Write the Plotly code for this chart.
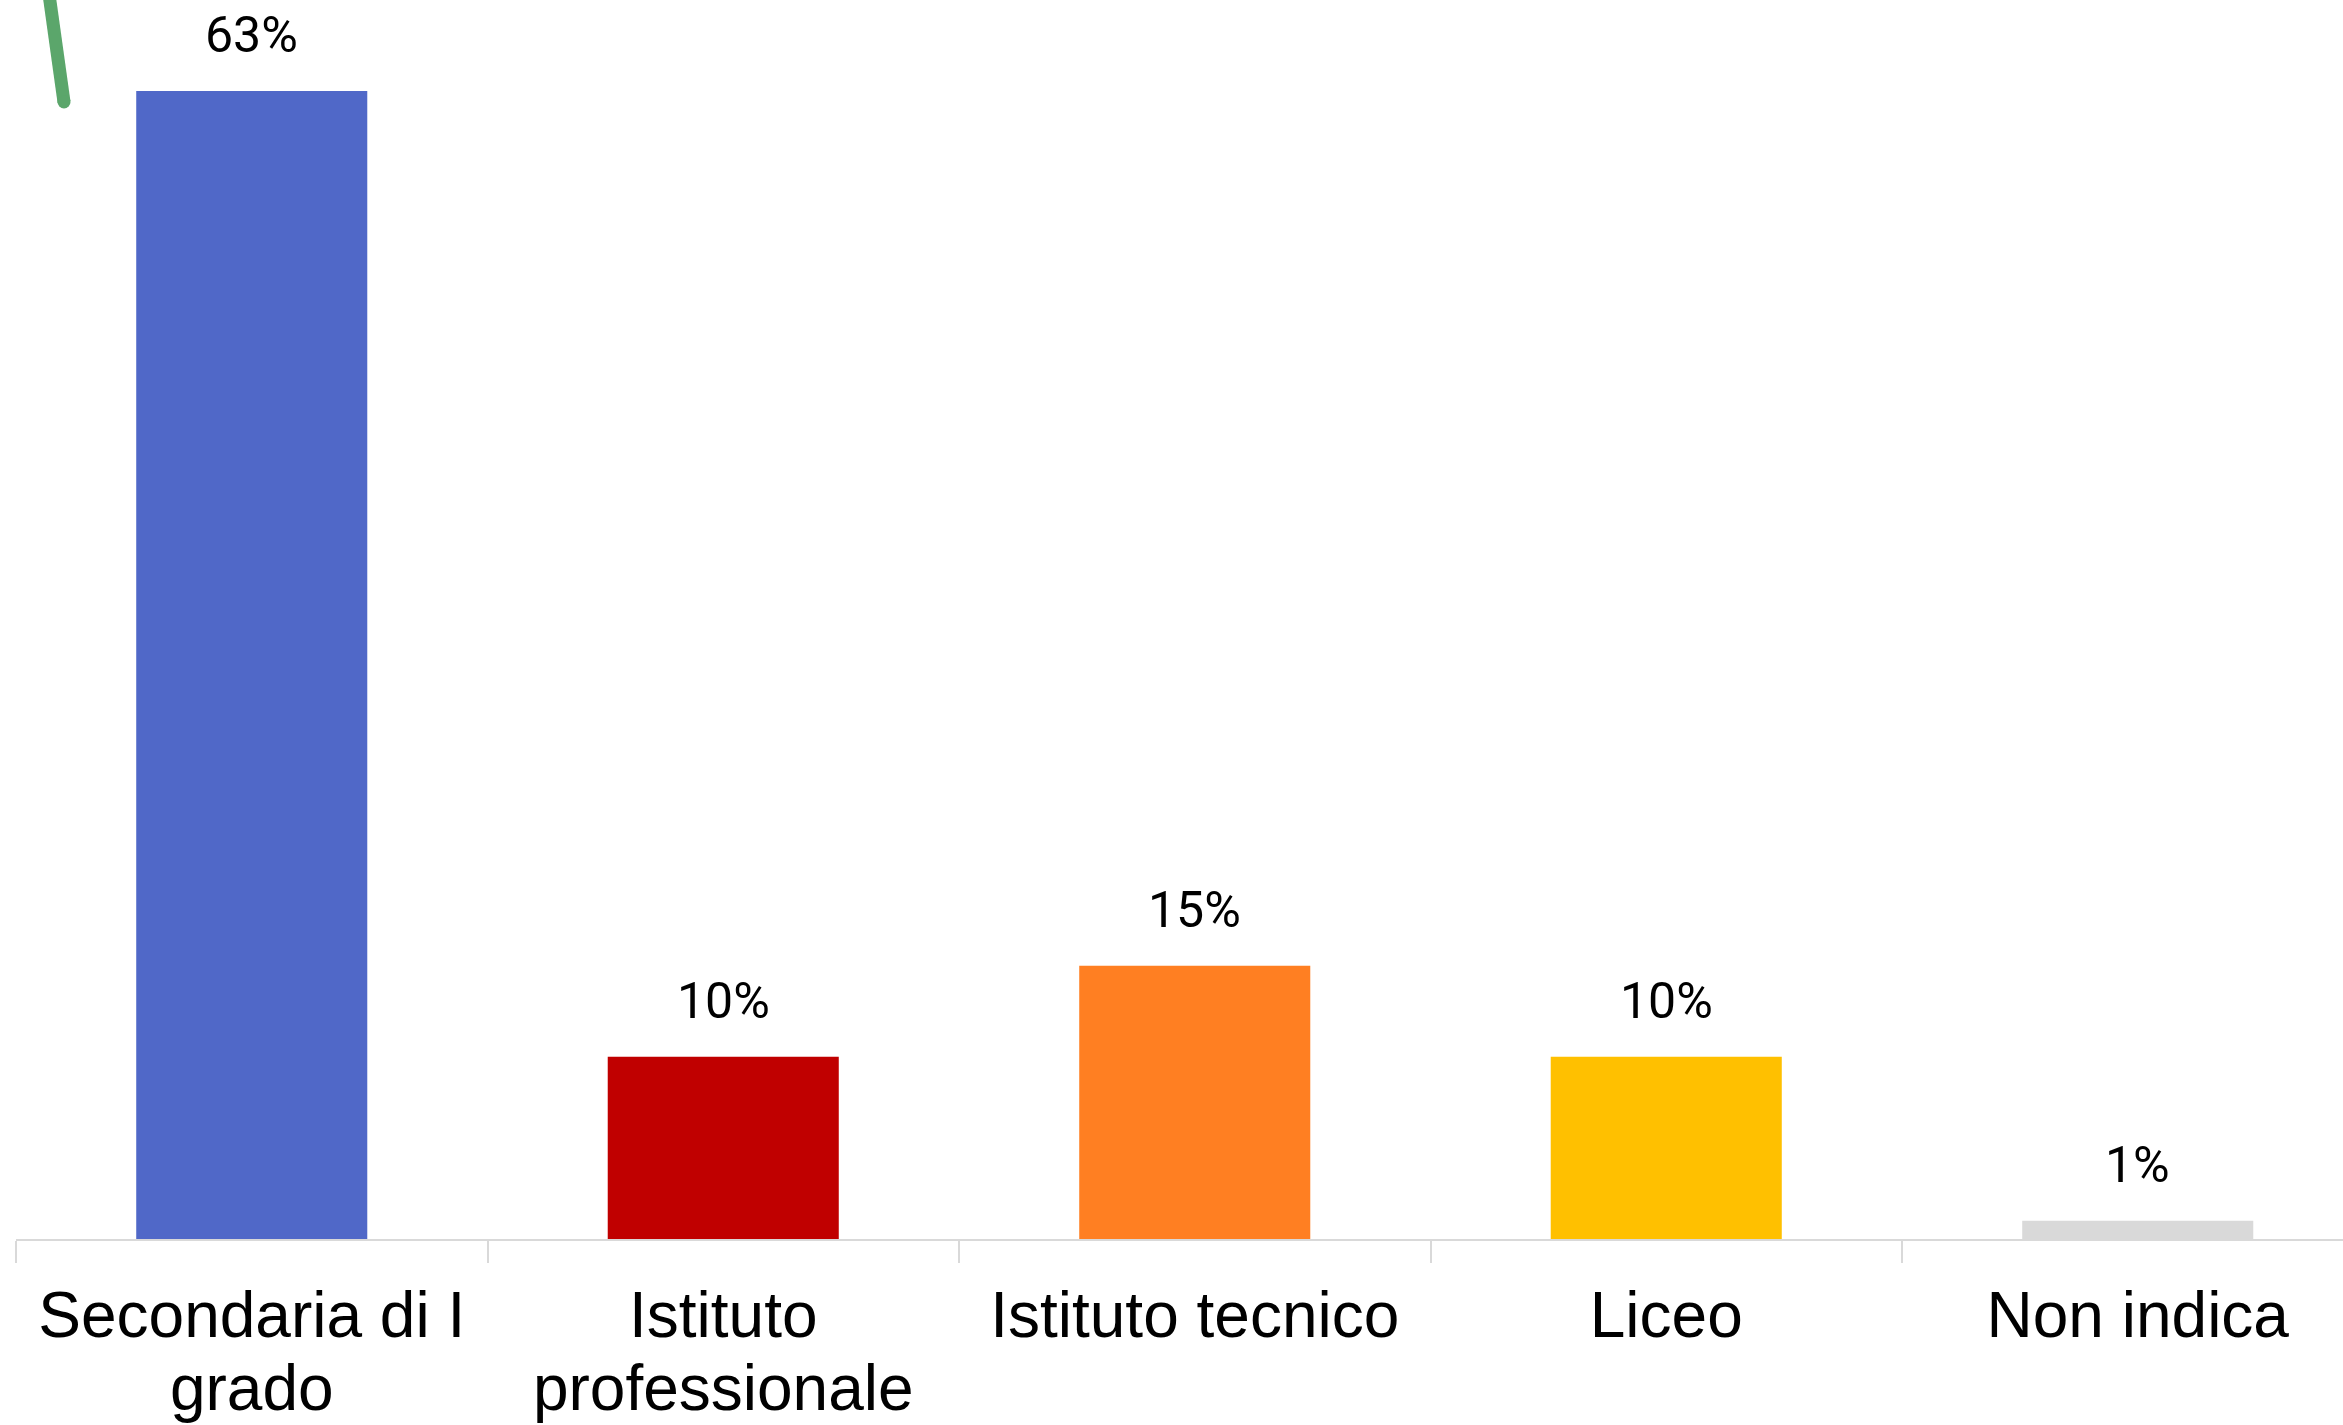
import plotly.graph_objects as go

# Tipologia di scuola e quota percentuale
righe_categorie = [
    ["Secondaria di I", "grado"],
    ["Istituto", "professionale"],
    ["Istituto tecnico"],
    ["Liceo"],
    ["Non indica"],
]
percentuali = [63, 10, 15, 10, 1]
etichette = ["63%", "10%", "15%", "10%", "1%"]
colori = ["#5068C8", "#C00000", "#FF7F22", "#FFC000", "#D9D9D9"]

W, H = 2343, 1425
left, bottom = 16, 186
plot_h = H - bottom

categorie = [" ".join(r) for r in righe_categorie]
# righe a interlinea stretta: font base piccolo, glifi ingranditi con span
testo_tick = [
    "<br>".join(f"<span style='font-size:64px'>{r}</span>" for r in righe)
    for righe in righe_categorie
]

fig = go.Figure(
    go.Bar(
        x=categorie,
        y=percentuali,
        marker=dict(color=colori, line=dict(width=0)),
        hoverinfo="skip",
    )
)

# etichette percentuali sopra le barre
for cat, val, lab in zip(categorie, percentuali, etichette):
    fig.add_annotation(
        x=cat, y=val, text=lab, showarrow=False,
        xanchor="center", yanchor="bottom", yshift=25,
        font=dict(family="Roboto", size=50, color="#000000"),
    )

# tratto decorativo verde in alto a sinistra
end_x = (64 - left) / (W - left)
end_y = (plot_h - 102) / plot_h
fig.add_shape(
    type="line", xref="paper", yref="paper",
    xsizemode="pixel", ysizemode="pixel",
    xanchor=end_x, yanchor=end_y,
    x0=0, y0=0, x1=-16, y1=115,
    line=dict(color="#5BA66B", width=13),
)
fig.add_shape(
    type="circle", xref="paper", yref="paper",
    xsizemode="pixel", ysizemode="pixel",
    xanchor=end_x, yanchor=end_y,
    x0=-6.5, x1=6.5, y0=-6.5, y1=6.5,
    fillcolor="#5BA66B", line=dict(width=0),
)

fig.update_layout(
    width=W, height=H,
    margin=dict(l=left, r=0, t=0, b=bottom),
    paper_bgcolor="#FFFFFF", plot_bgcolor="#FFFFFF",
    bargap=0.51,
    showlegend=False,
    font=dict(family="Liberation Sans, Arial", color="#000000"),
)
fig.update_xaxes(
    range=[-0.5, -0.5 + (W - left) / 471.5],
    showline=True, linecolor="#D9D9D9", linewidth=2,
    ticks="outside", tickson="boundaries", ticklen=22, tickwidth=2, tickcolor="#D9D9D9",
    tickmode="array", tickvals=categorie, ticktext=testo_tick,
    tickfont=dict(family="Liberation Sans, Arial", size=56, color="#000000"),
    ticklabelstandoff=29,
    showgrid=False, zeroline=False,
)
fig.update_yaxes(
    range=[0, plot_h / ((1239 - 91) / 63)],
    visible=False, showgrid=False, zeroline=False,
)

fig.write_html("out.html")
